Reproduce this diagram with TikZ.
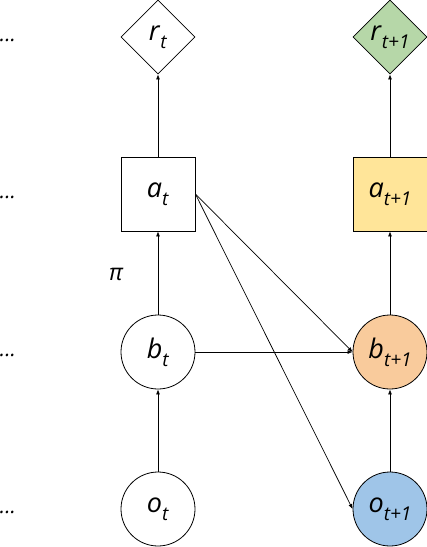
\documentclass[tikz,border=0pt]{standalone}
\usepackage{fontspec}
\setmainfont{Open Sans}
\usetikzlibrary{arrows.meta,shapes.geometric}
\definecolor{pomGreen}{HTML}{B6D7A8}
\definecolor{pomYellow}{HTML}{FFE599}
\definecolor{pomOrange}{HTML}{F9CB9C}
\definecolor{pomBlue}{HTML}{9FC5E8}
\newcommand{\pomVar}[2]{\textit{#1}\raisebox{-.3em}{\fontsize{19}{19}\selectfont\textit{#2}}}
\tikzset{
  pom base/.style={draw=black, line width=0.8pt, inner sep=0pt, font=\fontsize{27}{30}\selectfont},
  pom reward/.style={pom base, diamond, minimum width=74pt, minimum height=74pt, aspect=1},
  pom action/.style={pom base, rectangle, minimum size=74pt},
  pom state/.style={pom base, circle, minimum size=74pt},
  pom edge/.style={draw=black, line width=0.7pt, -{Latex[length=5pt,width=4pt]}},
  pom dots/.style={font=\fontsize{21}{22}\selectfont\itshape, anchor=east, inner sep=0pt},
}
\begin{document}
\begin{tikzpicture}[x=1pt,y=-1pt]
  \useasboundingbox (0,0) rectangle (427,547);
  % time t
  \node[pom reward] (rt) at (158,37) {\pomVar{r}{t}};
  \node[pom action] (at) at (158,194) {\pomVar{a}{t}};
  \node[pom state] (bt) at (158,352) {\pomVar{b}{t}};
  \node[pom state] (ot) at (158,509) {\pomVar{o}{t}};
  % time t+1
  \node[pom reward, fill=pomGreen] (rn) at (390,37) {\pomVar{r}{t+1}};
  \node[pom action, fill=pomYellow] (an) at (390,194) {\pomVar{a}{t+1}};
  \node[pom state, fill=pomOrange] (bn) at (390,352) {\pomVar{b}{t+1}};
  \node[pom state, fill=pomBlue] (on) at (390,509) {\pomVar{o}{t+1}};
  % earlier steps
  \foreach \y/\n in {40/dr,197/da,355/db,512/do}{\node[pom dots] (\n) at (16,\y) {...};}
  \node[font=\fontsize{23}{24}\selectfont\itshape] (pi) at (116,274) {π};
  \draw[pom edge] (ot) -- (bt);
  \draw[pom edge] (bt) -- (at);
  \draw[pom edge] (at) -- (rt);
  \draw[pom edge] (on) -- (bn);
  \draw[pom edge] (bn) -- (an);
  \draw[pom edge] (an) -- (rn);
  \draw[pom edge] (bt.east) -- (bn.west);
  \draw[pom edge] (at.east) -- (bn.west);
  \draw[pom edge] (at.east) -- (on.west);
\end{tikzpicture}
\end{document}
